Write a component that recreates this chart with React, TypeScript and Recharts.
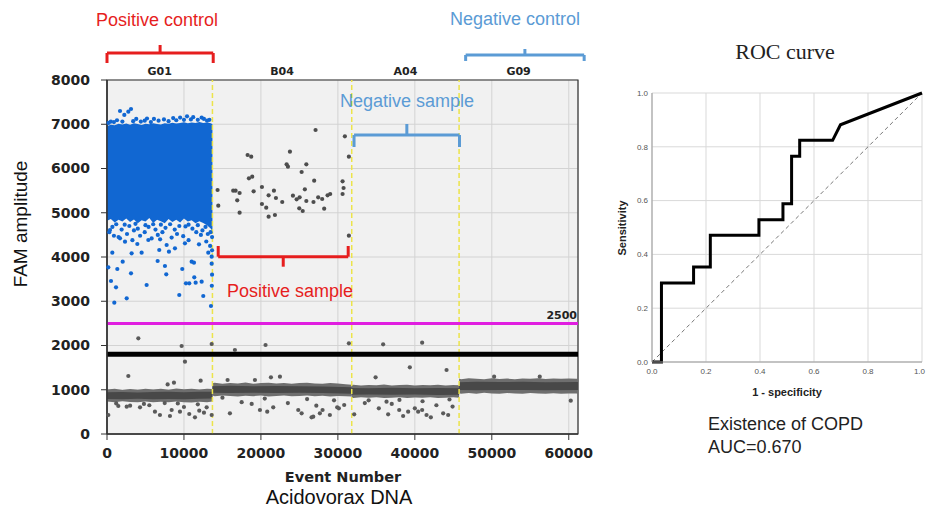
import React from 'react';
import {
  ComposedChart,
  LineChart,
  Line,
  Area,
  Scatter,
  XAxis,
  YAxis,
  CartesianGrid,
  ReferenceLine,
  ReferenceArea,
} from 'recharts';

// ---------------- Left chart data (ddPCR droplets) ----------------
const eventTicks = [0, 10000, 20000, 30000, 40000, 50000, 60000];
const amplitudeTicks = [0, 1000, 2000, 3000, 4000, 5000, 6000, 7000, 8000];
const wellNames = ['G01', 'B04', 'A04', 'G09'];
const wellCenters = [6850, 22750, 38775, 53475];
const wellBoundaries = [13700, 31800, 45750];
const thresholdValue = 2500;
const baselineCut = 1800;
const eventMax = 61200;
const amplitudeMax = 8000;

// dense clusters: [event, low amplitude, high amplitude]
const positiveControlCloud: [number, number, number][] = [
  [0, 4820, 6960], [500, 4860, 6990], [1000, 4780, 6975], [1500, 4840, 7010], [2000, 4800, 6995],
  [2500, 4870, 7015], [3000, 4790, 6990], [3500, 4850, 7020], [4000, 4760, 7005], [4500, 4830, 6985],
  [5000, 4800, 7010], [5500, 4880, 7000], [6000, 4770, 7025], [6500, 4840, 7005], [7000, 4810, 6995],
  [7500, 4760, 7020], [8000, 4860, 7010], [8500, 4790, 7035], [9000, 4840, 7015], [9500, 4780, 7030],
  [10000, 4870, 7045], [10500, 4800, 7025], [11000, 4830, 7040], [11500, 4760, 7030], [12000, 4810, 7050],
  [12500, 4770, 7030], [13000, 4720, 7040], [13500, 4640, 7020], [13700, 4560, 7000],
];
const bandG01: [number, number, number][] = [
  [0, 735, 1005], [1000, 720, 1020], [2000, 740, 995], [3000, 725, 1015], [4000, 715, 1000],
  [5000, 735, 1025], [6000, 720, 1005], [7000, 730, 1020], [8000, 715, 1000], [9000, 735, 1030],
  [10000, 720, 1010], [11000, 710, 1025], [12000, 730, 1005], [13000, 720, 1020], [13700, 735, 1015],
];
const coreG01: [number, number, number][] = [
  [0, 790, 945], [2000, 785, 950], [4000, 795, 940], [6000, 788, 948],
  [8000, 792, 952], [10000, 785, 945], [12000, 795, 955], [13700, 800, 952],
];
const bandB04: [number, number, number][] = [
  [13700, 870, 1145], [14000, 855, 1160], [15000, 870, 1135], [16000, 860, 1150], [17000, 850, 1140],
  [18000, 865, 1165], [19000, 855, 1135], [20000, 870, 1150], [21000, 850, 1160], [22000, 860, 1140],
  [23000, 868, 1155], [24000, 852, 1135], [25000, 860, 1150], [26000, 870, 1160], [27000, 855, 1140],
  [28000, 865, 1135], [29000, 850, 1150], [30000, 860, 1140], [31000, 855, 1125], [31800, 850, 1115],
];
const coreB04: [number, number, number][] = [
  [13700, 930, 1080], [16000, 925, 1088], [19000, 932, 1078], [22000, 926, 1084],
  [25000, 930, 1080], [28000, 924, 1074], [31800, 910, 1055],
];
const bandA04: [number, number, number][] = [
  [31800, 825, 1105], [32000, 815, 1115], [33000, 830, 1095], [34000, 818, 1110], [35000, 828, 1100],
  [36000, 812, 1118], [37000, 822, 1098], [38000, 830, 1108], [39000, 815, 1115], [40000, 825, 1095],
  [41000, 818, 1110], [42000, 830, 1100], [43000, 812, 1115], [44000, 822, 1095], [45000, 828, 1105],
  [45750, 818, 1100],
];
const coreA04: [number, number, number][] = [
  [31800, 885, 1040], [34000, 890, 1036], [37000, 886, 1044], [40000, 890, 1032],
  [43000, 884, 1040], [45750, 886, 1036],
];
const bandG09: [number, number, number][] = [
  [45750, 920, 1255], [46000, 910, 1240], [47000, 925, 1262], [48000, 912, 1248], [49000, 930, 1238],
  [50000, 918, 1258], [51000, 910, 1245], [52000, 926, 1252], [53000, 918, 1240], [54000, 910, 1256],
  [55000, 928, 1250], [56000, 915, 1262], [57000, 912, 1242], [58000, 922, 1252], [59000, 910, 1246],
  [60000, 918, 1256], [61000, 915, 1250], [61200, 912, 1248],
];
const coreG09: [number, number, number][] = [
  [45750, 995, 1170], [48000, 990, 1178], [51000, 996, 1174], [54000, 992, 1182],
  [57000, 988, 1172], [61200, 992, 1176],
];

// individual droplets: [event, amplitude]
const positiveControlDroplets: [number, number][] = [
  [1690, 7300], [2250, 7210], [2770, 7284], [3120, 7345],
  [500, 7060], [1300, 7090], [3800, 7120], [5200, 7130], [6100, 7120], [7400, 7110],
  [8600, 7140], [9500, 7150], [10400, 7180], [11200, 7160], [12600, 7120], [13300, 7100],
  [200, 7030], [900, 7050], [2000, 7060], [3400, 7070], [4400, 7060], [4900, 7080], [5700, 7050],
  [6700, 7080], [8000, 7070], [9000, 7090], [10000, 7100], [10900, 7110], [11800, 7100], [12300, 7150],
  [13000, 7080],
  [300, 4560], [900, 4480], [1500, 4450], [2600, 4520], [3500, 4600], [4300, 4480], [4900, 4560],
  [5800, 4420], [6600, 4500], [7200, 4560], [8400, 4440], [9100, 4520], [9900, 4470], [10600, 4380],
  [11600, 4560], [12200, 4500], [12900, 4350], [13400, 4250], [13650, 4450], [13650, 4150],
  [13600, 3850], [13650, 3600], [13620, 3350],
  [700, 4680], [1900, 4620], [2900, 4700], [4000, 4640], [5400, 4680], [6300, 4620], [7600, 4660],
  [8800, 4620], [10200, 4690], [11100, 4640], [12400, 4600], [13100, 4520], [3300, 4380], [6900, 4400],
  [1200, 4740], [2300, 4730], [3700, 4750], [5000, 4720], [6000, 4740], [7000, 4730], [8200, 4740],
  [9400, 4700], [10600, 4730], [11800, 4720], [12800, 4680], [13450, 4560],
  [390, 4610], [690, 4097], [170, 3767], [1340, 3729], [520, 3458], [1170, 3315], [950, 2968],
  [2560, 3067], [3120, 3631], [2040, 3894], [3200, 4083], [3940, 4294], [5150, 3367], [6580, 3910],
  [7530, 3797], [7700, 3608], [6790, 4158], [8050, 4120], [9780, 3729], [9390, 3141], [10260, 3405],
  [10690, 3405], [11340, 3541], [11520, 3420], [11000, 3894], [11300, 3871], [12300, 3442],
  [12510, 3119], [11950, 4287], [13160, 4097], [13510, 2893], [13600, 4007], [8830, 4196],
  [10130, 4309], [4500, 4097], [5370, 4384], [2340, 4346], [7750, 4271], [1690, 4422],
];
const positiveSampleDroplets: [number, number][] = [
  [14370, 5514], [14460, 5160], [16400, 5498], [16710, 5498], [17230, 5446], [16920, 5280],
  [17230, 5002], [18270, 6305], [18740, 6267], [18440, 5778], [18870, 5815], [19050, 5485],
  [20130, 5582], [20130, 5198], [20690, 5115], [21000, 4911], [21000, 5394], [21690, 5498],
  [21950, 5333], [21820, 4949], [22770, 5243], [23770, 6380], [23340, 6094], [23510, 6041],
  [24160, 5386], [24640, 5303], [25030, 5348], [24980, 5100], [25430, 5040], [25290, 5921],
  [25900, 6094], [25710, 5529], [25900, 5266], [26920, 5724], [26830, 5243], [27100, 6870],
  [27440, 5348], [27960, 5311], [28220, 5092], [28660, 5394], [29000, 5424], [30610, 5710],
  [30740, 5559], [30610, 5424], [30910, 6727], [31430, 6267], [31430, 4481],
];
const negativeDropletOutliers: [number, number][] = [
  [4070, 2163], [9700, 1989], [13600, 2034], [16620, 1898], [20600, 2011], [10130, 1634],
  [2770, 1311], [8700, 1160], [7880, 1120], [12170, 1205], [15670, 1220], [21300, 1281],
  [22470, 1295], [19220, 1220], [31430, 2049], [35880, 2027], [40950, 2063], [34900, 1281],
  [39350, 1507], [44120, 1446], [50300, 1295], [56230, 1295],
  [170, 429], [1470, 633], [2560, 617], [4290, 603], [6230, 504], [6880, 429], [8180, 407],
  [8400, 542], [9480, 504], [10690, 452], [11430, 377], [11990, 527], [12600, 482], [12950, 603],
  [13600, 429], [15970, 467], [19870, 542], [20820, 504], [21600, 603], [24850, 542], [25290, 467],
  [26800, 392], [27660, 467], [28010, 542], [28960, 429], [29910, 603], [26580, 377], [30130, 580],
  [30820, 655], [32120, 444], [35320, 580], [36530, 444], [37970, 542], [38480, 407], [39130, 504],
  [40000, 580], [40430, 504], [40950, 542], [41520, 429], [42080, 377], [43680, 467], [44330, 429],
  [36320, 730], [60260, 753], [17500, 720], [18800, 680], [23500, 700], [27200, 640], [33500, 700],
  [37000, 680], [42800, 650], [44900, 620], [3000, 640], [5500, 650], [10000, 610],
  [1200, 690], [4800, 680], [7500, 700], [9200, 690], [11800, 670], [15000, 820], [20500, 800],
  [26000, 790], [29500, 760], [34000, 760], [38000, 770], [41000, 740], [44500, 780],
];

// ---------------- Right chart data (ROC) ----------------
const rocFpr = [0, 0.035, 0.035, 0.154, 0.154, 0.216, 0.216, 0.396, 0.396, 0.485, 0.485, 0.517, 0.517, 0.547, 0.547, 0.669, 0.698, 1.0];
const rocTpr = [0, 0, 0.294, 0.294, 0.353, 0.353, 0.471, 0.471, 0.529, 0.529, 0.588, 0.588, 0.765, 0.765, 0.824, 0.824, 0.882, 1.0];
const rocTicks = [0, 0.2, 0.4, 0.6, 0.8, 1.0];

// ---------------- annotation config ----------------
const RED = '#e61e1e';
const BLUE = '#5b9bd5';
const brackets = [
  { x0: 0, x1: 13800, xm: 6900, yLine: 8610, yEnd: 8384, yMid: 8791, color: RED },
  { x0: 46600, x1: 62000, xm: 54300, yLine: 8565, yEnd: 8430, yMid: 8700, color: BLUE },
  { x0: 32100, x1: 45800, xm: 38960, yLine: 6757, yEnd: 6486, yMid: 7006, color: BLUE },
  { x0: 14450, x1: 31340, xm: 22900, yLine: 4007, yEnd: 4249, yMid: 3781, color: RED },
];

const SANS = '"Liberation Sans", Arial, sans-serif';
const DEJAVU = '"DejaVu Sans", sans-serif';

function mergeBands(series: Record<string, [number, number, number][]>) {
  const map = new Map<number, any>();
  Object.entries(series).forEach(([key, arr]) => {
    arr.forEach(([x, lo, hi]) => {
      const row = map.get(x) ?? { x };
      row[key] = [lo, hi];
      map.set(x, row);
    });
  });
  return Array.from(map.values()).sort((a, b) => a.x - b.x);
}

const bandData = mergeBands({
  cloud: positiveControlCloud,
  g01: bandG01, g01c: coreG01,
  b04: bandB04, b04c: coreB04,
  a04: bandA04, a04c: coreA04,
  g09: bandG09, g09c: coreG09,
});

const toPts = (arr: [number, number][]) => arr.map(([x, y]) => ({ x, y }));
const rocData = rocFpr.map((f, i) => ({ fpr: f, tpr: rocTpr[i] }));

const makeDot = (color: string) => (p: any) =>
  p.cx == null ? <g /> : <circle cx={p.cx} cy={p.cy} r={2.1} fill={color} />;

const outerKeys = ['g01', 'b04', 'a04', 'g09'];
const coreKeys = ['g01c', 'b04c', 'a04c', 'g09c'];

const RocXTick = (props: any) => {
  const { x, y, payload, index, visibleTicksCount } = props;
  const last = index === (visibleTicksCount ?? rocTicks.length) - 1 || payload.value === 1;
  return (
    <text x={x} y={y} dy="0.71em" textAnchor={last ? 'end' : 'middle'} dx={last ? 3 : 0} fontFamily={SANS} fontSize={8} fill="#555">
      {Number(payload.value).toFixed(1)}
    </text>
  );
};

function DropletChart() {
  return (
    <ComposedChart
      width={600}
      height={510}
      data={bandData}
      margin={{ top: 80, right: 22, bottom: 46, left: 0 }}
    >
      <CartesianGrid fill="#f1f1f1" stroke="#d3d3d3" />
      <XAxis
        dataKey="x"
        type="number"
        domain={[0, eventMax]}
        ticks={eventTicks}
        interval={0}
        height={30}
        tickSize={6}
        tickMargin={8}
        axisLine={{ stroke: '#333', strokeWidth: 1.5 }}
        tickLine={{ stroke: '#333' }}
        tick={{ fontFamily: DEJAVU, fontWeight: 700, fontSize: 14, fill: '#222' }}
      />
      <YAxis
        type="number"
        domain={[0, amplitudeMax]}
        ticks={amplitudeTicks}
        interval={0}
        width={107}
        tickSize={6}
        tickMargin={11}
        axisLine={{ stroke: '#333', strokeWidth: 1.5 }}
        tickLine={{ stroke: '#333' }}
        tick={{ fontFamily: DEJAVU, fontWeight: 700, fontSize: 14, fill: '#222' }}
      />
      <ReferenceArea x1={0} x2={eventMax} y1={0} y2={amplitudeMax} fill="none" stroke="#333" strokeWidth={1.2} ifOverflow="visible" />

      <Area dataKey="cloud" type="linear" connectNulls stroke="none" fill="#1167d2" fillOpacity={1} dot={false} activeDot={false} isAnimationActive={false} />
      {outerKeys.map((k) => (
        <Area key={k} dataKey={k} type="linear" connectNulls stroke="none" fill="#6e6e6e" fillOpacity={1} dot={false} activeDot={false} isAnimationActive={false} />
      ))}
      {coreKeys.map((k) => (
        <Area key={k} dataKey={k} type="linear" connectNulls stroke="none" fill="#484848" fillOpacity={1} dot={false} activeDot={false} isAnimationActive={false} />
      ))}

      <Scatter data={toPts(positiveControlDroplets)} dataKey="y" shape={makeDot('#1167d2')} isAnimationActive={false} />
      <Scatter data={toPts(positiveSampleDroplets)} dataKey="y" shape={makeDot('#4d4d4d')} isAnimationActive={false} />
      <Scatter data={toPts(negativeDropletOutliers)} dataKey="y" shape={makeDot('#5a5a5a')} isAnimationActive={false} />

      {wellBoundaries.map((b) => (
        <ReferenceLine key={b} x={b} stroke="#ece44a" strokeWidth={1.5} strokeDasharray="5 3" />
      ))}
      {wellCenters.map((c, i) => (
        <ReferenceLine
          key={`w${c}`}
          x={c}
          stroke="none"
          label={{
            value: wellNames[i],
            position: 'top',
            offset: 5,
            fill: '#222',
            fontSize: 11,
            fontWeight: 700,
            fontFamily: DEJAVU,
          }}
        />
      ))}
      <ReferenceLine y={thresholdValue} stroke="#e01ee0" strokeWidth={3} />
      <ReferenceLine y={baselineCut} stroke="#000" strokeWidth={5} />

      {brackets.flatMap((br, i) => [
        <ReferenceLine key={`h${i}`} segment={[{ x: br.x0, y: br.yLine }, { x: br.x1, y: br.yLine }]} stroke={br.color} strokeWidth={3} ifOverflow="visible" />,
        <ReferenceLine key={`l${i}`} segment={[{ x: br.x0, y: br.yLine }, { x: br.x0, y: br.yEnd }]} stroke={br.color} strokeWidth={3} ifOverflow="visible" />,
        <ReferenceLine key={`r${i}`} segment={[{ x: br.x1, y: br.yLine }, { x: br.x1, y: br.yEnd }]} stroke={br.color} strokeWidth={3} ifOverflow="visible" />,
        <ReferenceLine key={`m${i}`} segment={[{ x: br.xm, y: br.yLine }, { x: br.xm, y: br.yMid }]} stroke={br.color} strokeWidth={3} ifOverflow="visible" />,
      ])}
    </ComposedChart>
  );
}

function RocChart() {
  return (
    <LineChart
      width={326}
      height={510}
      data={rocData}
      margin={{ top: 93, right: 4, bottom: 128, left: 22 }}
    >
      <CartesianGrid stroke="#d9d9d9" fill="#fff" />
      <XAxis
        dataKey="fpr"
        type="number"
        domain={[0, 1]}
        ticks={rocTicks}
        interval={0}
        height={20}
        tickSize={0}
        tickMargin={6}
        axisLine={{ stroke: '#9a9a9a' }}
        tickLine={false}
        tick={<RocXTick />}
      />
      <YAxis
        type="number"
        domain={[0, 1]}
        ticks={rocTicks}
        interval={0}
        width={30}
        tickSize={0}
        tickMargin={4}
        tickFormatter={(v: number) => v.toFixed(1)}
        axisLine={{ stroke: '#9a9a9a' }}
        tickLine={false}
        tick={{ fontFamily: SANS, fontSize: 8, fill: '#555' }}
      />
      <ReferenceLine segment={[{ x: 0, y: 0 }, { x: 1, y: 1 }]} stroke="#777" strokeWidth={1} strokeDasharray="4 3" />
      <Line dataKey="tpr" type="linear" stroke="#000" strokeWidth={3} dot={false} activeDot={false} isAnimationActive={false} />
    </LineChart>
  );
}

export default function App() {
  return (
    <div style={{ position: 'absolute', left: 0, top: 0, width: 926, height: 510, background: '#fff', overflow: 'hidden' }}>
      <div style={{ position: 'absolute', left: 0, top: 0 }}>
        <DropletChart />
      </div>
      <div style={{ position: 'absolute', left: 600, top: 0 }}>
        <RocChart />
      </div>
      <svg width={926} height={510} style={{ position: 'absolute', left: 0, top: 0, pointerEvents: 'none' }}>
        <g fontFamily={SANS}>
          <text x={157} y={26} textAnchor="middle" fill={RED} fontSize={18}>Positive control</text>
          <text x={515} y={25} textAnchor="middle" fill={BLUE} fontSize={18}>Negative control</text>
          <text x={407} y={107} textAnchor="middle" fill={BLUE} fontSize={18}>Negative sample</text>
          <text x={290} y={297} textAnchor="middle" fill={RED} fontSize={18}>Positive sample</text>
          <text x={577} y={319} textAnchor="end" fill="#222" fontSize={11} fontWeight={700} fontFamily={DEJAVU}>2500</text>
          <text transform="translate(27,224) rotate(-90)" textAnchor="middle" fill="#111" fontSize={19}>FAM amplitude</text>
          <text x={343} y={482} textAnchor="middle" fill="#222" fontSize={14.5} fontWeight={700} fontFamily={DEJAVU}>Event Number</text>
          <text x={339} y={504} textAnchor="middle" fill="#111" fontSize={20}>Acidovorax DNA</text>
          <text x={785} y={59} textAnchor="middle" fill="#222" fontSize={22} fontFamily='"Liberation Serif", serif'>ROC curve</text>
          <text transform="translate(626,228) rotate(-90)" textAnchor="middle" fill="#222" fontSize={11} fontWeight={700}>Sensitivity</text>
          <text x={787} y={396} textAnchor="middle" fill="#222" fontSize={11} fontWeight={700}>1 - specificity</text>
          <text x={708} y={430} fill="#222" fontSize={18}>Existence of COPD</text>
          <text x={708} y={453} fill="#222" fontSize={18}>AUC=0.670</text>
        </g>
      </svg>
    </div>
  );
}
